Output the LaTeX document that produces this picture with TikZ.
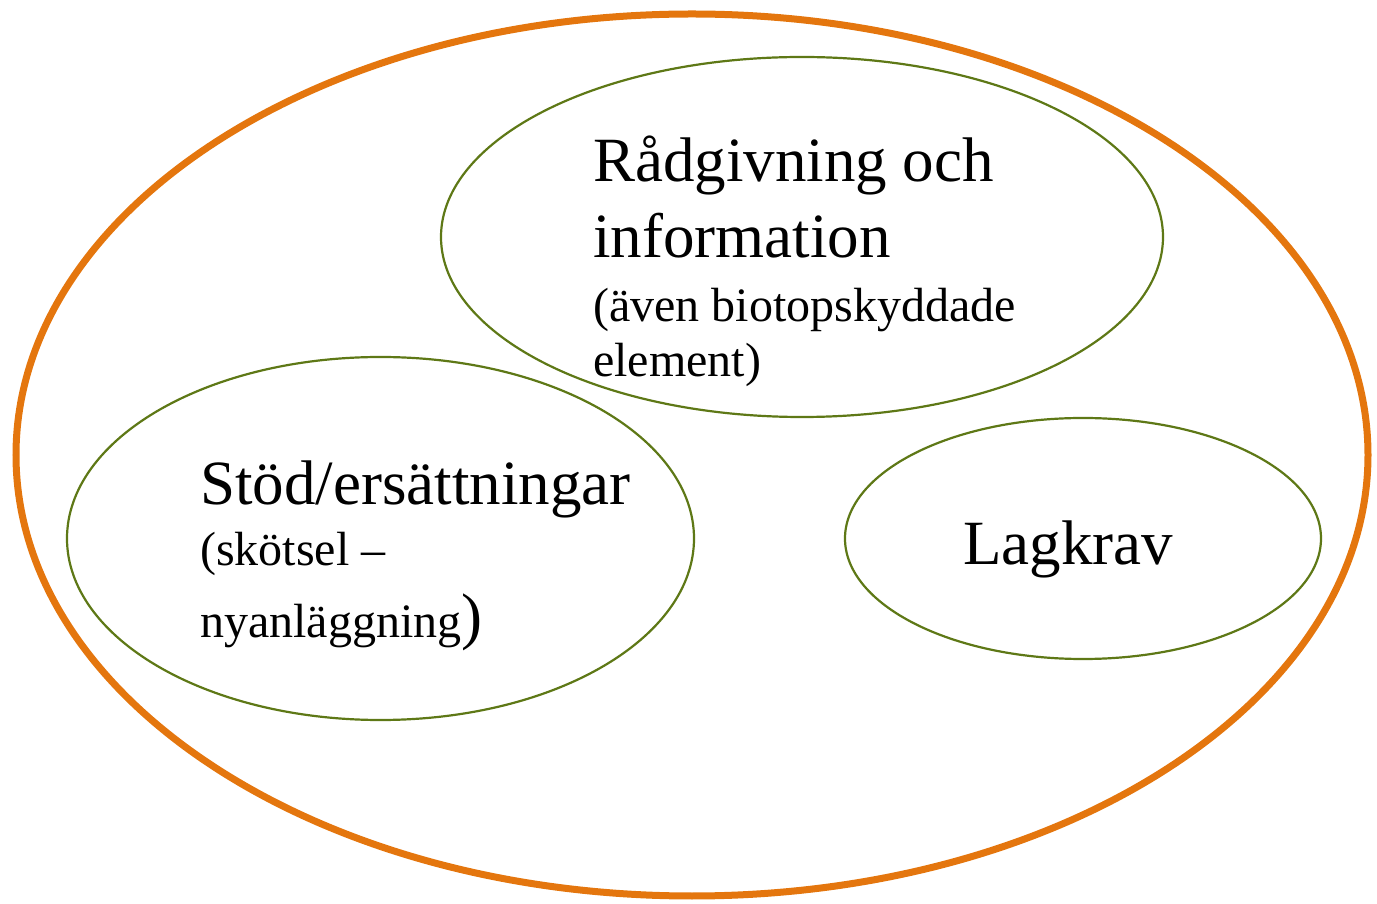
\documentclass[tikz,border=0pt]{standalone}
\usepackage{fontspec}
\setmainfont{Liberation Serif}
\usepackage{tikz}
\definecolor{ringorange}{RGB}{228,118,14}
\definecolor{ringgreen}{RGB}{94,120,22}

\begin{document}
\begin{tikzpicture}[x=1pt,y=1pt,
    big/.style={font=\fontsize{63}{77}\selectfont,anchor=base west,inner sep=0pt},
    small/.style={font=\fontsize{48}{56}\selectfont,anchor=base west,inner sep=0pt}]
            \useasboundingbox (0,0) rectangle (1377,903);
            \draw[line width=7pt,draw=ringorange] (692,448) ellipse (676 and 441);
            \draw[line width=2.2pt,draw=ringgreen] (802,666) ellipse (361 and 180);
            \draw[line width=2.2pt,draw=ringgreen] (380.5,364.5) ellipse (313.5 and 181.5);
            \draw[line width=2.2pt,draw=ringgreen] (1083,364.5) ellipse (238 and 120.5);
            % raadgivning
            \node[big] (radA) at (593,721) {Rådgivning och};
            \node[big] (radB) at (593,645) {information};
            \node[small] (radC) at (593,581) {(även biotopskyddade};
            \node[small] (radD) at (593,526) {element)};
            % stod
            \node[big] (stodA) at (200,398) {Stöd/ersättningar};
            \node[small] (stodB) at (200,337) {(skötsel –};
            \node[small] (stodC) at (200,265) {nyanläggning{\fontsize{63}{77}\selectfont)}};
            % lag
            \node[big] (lag) at (963,338) {Lagkrav};
\end{tikzpicture}
\end{document}
